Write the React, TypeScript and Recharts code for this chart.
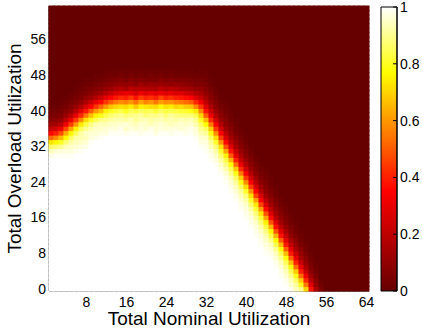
import React from 'react';
import { ScatterChart, Scatter, XAxis, YAxis, BarChart, Bar } from 'recharts';

const FONT = '"Liberation Sans", Arial, Helvetica, sans-serif';

const xTicks = [8, 16, 24, 32, 40, 48, 56, 64];
const yTicks = [0, 8, 16, 24, 32, 40, 48, 56];
const colorTicks = [0, 0.2, 0.4, 0.6, 0.8, 1];

// one entry per nominal-utilization column (1..64).
// rows below columnBase are 1, then columnProfile (percent) going up, then 0
const columnBase = [
  30, 30, 30, 30, 30, 31, 31, 32, 33, 34, 34, 35, 35, 35, 35, 35,
  35, 35, 35, 35, 35, 35, 35, 35, 35, 35, 35, 35, 35, 34, 32, 31,
  29, 28, 26, 24, 22, 20, 18, 16, 14, 12, 10, 8, 7, 5, 3, 1,
  0, 0, 0, 0, 0, 0, 0, 0, 0, 0, 0, 0, 0, 0, 0, 0,
];

const columnProfile = [
  [98, 94, 86, 72, 52, 36, 22, 13, 8, 5, 3, 1],
  [99, 96, 88, 76, 58, 40, 25, 15, 9, 5, 3, 1],
  [99, 97, 90, 80, 66, 48, 32, 19, 11, 7, 4, 2, 1],
  [99, 97, 94, 87, 77, 64, 47, 32, 20, 12, 7, 4, 2, 1],
  [99, 97, 95, 92, 86, 76, 62, 45, 31, 19, 11, 7, 4, 2, 1],
  [98, 96, 94, 92, 85, 75, 60, 44, 30, 18, 11, 7, 4, 2, 1],
  [99, 97, 95, 93, 92, 85, 74, 58, 42, 28, 17, 10, 6, 4, 2, 1],
  [98, 96, 94, 95, 90, 83, 71, 55, 39, 26, 16, 10, 6, 4, 2, 1],
  [99, 97, 96, 93, 89, 80, 67, 50, 35, 22, 13, 8, 5, 3, 1],
  [98, 96, 95, 93, 85, 75, 60, 44, 30, 18, 11, 7, 4, 2, 1],
  [99, 97, 95, 94, 89, 79, 66, 52, 36, 23, 14, 8, 5, 3, 1],
  [97, 96, 94, 90, 84, 75, 60, 44, 30, 18, 11, 7, 4, 2, 1],
  [99, 97, 95, 92, 87, 80, 67, 50, 35, 22, 13, 8, 5, 3, 1],
  [99, 97, 95, 93, 89, 82, 70, 55, 39, 26, 16, 10, 6, 3, 1],
  [99, 98, 96, 93, 90, 84, 72, 58, 42, 28, 18, 11, 7, 4, 2],
  [98, 95, 97, 92, 88, 80, 71, 56, 40, 30, 15, 10, 5, 3, 1],
  [99, 97, 95, 94, 89, 85, 74, 60, 44, 29, 20, 12, 8, 4, 2],
  [99, 96, 94, 91, 90, 83, 68, 54, 38, 25, 17, 9, 6, 3, 1],
  [98, 97, 96, 93, 91, 86, 75, 62, 45, 31, 19, 13, 7, 4, 2],
  [99, 96, 95, 94, 88, 84, 73, 57, 41, 27, 18, 10, 6, 3, 1],
  [99, 98, 94, 92, 90, 85, 72, 60, 43, 30, 17, 12, 6, 4, 2],
  [97, 96, 95, 93, 89, 82, 71, 55, 40, 28, 16, 11, 5, 3, 1],
  [99, 97, 96, 94, 91, 86, 76, 61, 46, 30, 20, 12, 8, 4, 2],
  [99, 96, 95, 92, 88, 83, 72, 58, 41, 27, 17, 11, 6, 3, 1],
  [98, 97, 94, 93, 91, 84, 74, 59, 43, 29, 19, 10, 7, 4, 2],
  [99, 97, 95, 92, 89, 83, 70, 56, 40, 26, 18, 11, 5, 3, 1],
  [99, 96, 96, 94, 88, 82, 71, 55, 39, 27, 15, 10, 6, 3, 1],
  [98, 97, 95, 93, 88, 81, 68, 53, 37, 24, 14, 9, 5, 3, 1],
  [99, 98, 96, 94, 88, 79, 67, 50, 35, 22, 13, 8, 5, 2, 1],
  [99, 97, 96, 93, 90, 84, 73, 57, 41, 27, 17, 10, 6, 4, 2],
  [99, 97, 96, 93, 90, 86, 80, 70, 57, 44, 32, 22, 15, 10, 6, 4, 2, 1],
  [99, 98, 97, 95, 91, 86, 77, 65, 50, 38, 28, 20, 14, 10, 7, 5, 3, 2, 1],
  [99, 98, 97, 94, 91, 86, 79, 69, 55, 42, 31, 22, 16, 11, 8, 6, 4, 2, 1],
  [99, 97, 95, 92, 88, 81, 71, 58, 44, 33, 24, 17, 12, 8, 6, 4, 2, 1],
  [99, 97, 95, 92, 87, 81, 72, 59, 45, 34, 25, 18, 12, 9, 6, 4, 2, 1],
  [99, 98, 96, 93, 89, 83, 75, 62, 48, 36, 26, 19, 13, 9, 7, 5, 3, 2, 1],
  [99, 98, 96, 94, 90, 85, 77, 65, 50, 38, 28, 20, 14, 10, 7, 5, 3, 2, 1],
  [99, 98, 96, 94, 91, 86, 79, 68, 53, 40, 30, 22, 15, 11, 8, 5, 3, 2, 1],
  [99, 98, 96, 94, 91, 86, 79, 69, 55, 42, 31, 22, 16, 11, 8, 6, 4, 2, 1],
  [99, 98, 97, 95, 92, 88, 81, 71, 58, 44, 33, 24, 17, 12, 8, 6, 4, 2, 1],
  [99, 98, 97, 95, 92, 87, 81, 72, 59, 45, 34, 25, 18, 12, 9, 6, 4, 2, 1],
  [99, 98, 97, 95, 92, 88, 82, 73, 61, 46, 35, 26, 18, 13, 9, 6, 4, 2, 1],
  [99, 98, 97, 95, 92, 88, 82, 73, 61, 46, 35, 26, 18, 13, 9, 6, 4, 2, 1],
  [99, 98, 97, 95, 93, 89, 83, 75, 62, 48, 36, 26, 19, 13, 9, 7, 5, 3, 2, 1],
  [99, 98, 96, 94, 90, 84, 76, 64, 49, 37, 27, 19, 14, 10, 7, 5, 3, 2, 1],
  [99, 98, 96, 94, 90, 84, 76, 64, 49, 37, 27, 19, 14, 10, 7, 5, 3, 2, 1],
  [99, 98, 96, 94, 90, 85, 77, 65, 50, 38, 28, 20, 14, 10, 7, 5, 3, 2, 1],
  [99, 98, 96, 94, 90, 85, 78, 66, 51, 39, 29, 21, 15, 10, 7, 5, 3, 2, 1],
  [98, 96, 94, 90, 85, 78, 66, 51, 39, 29, 21, 15, 10, 7, 5, 3, 2, 1],
  [94, 91, 86, 79, 68, 53, 40, 30, 22, 15, 11, 8, 5, 3, 2, 1],
  [90, 80, 68, 53, 40, 30, 22, 15, 11, 8, 5, 3, 2, 1],
  [70, 55, 42, 31, 22, 16, 11, 8, 5, 3, 2, 1],
  [38, 28, 19, 13, 9, 6, 4, 2, 1],
  [16, 11, 8, 5, 3, 2, 1],
  [5, 3, 1],
  [], [], [], [], [], [], [], [], [],
];

const cells: { x: number; y: number; v: number }[] = [];
columnBase.forEach((base, i) => {
  for (let y = 0; y < 64; y++) {
    const v = y < base ? 1 : (columnProfile[i][y - base] ?? 0) / 100;
    cells.push({ x: i + 1, y, v });
  }
});

const colorBar = [{ name: 'cb', value: 1 }];

// plot box is 320 x 285 px, 64 x 64 cells
const CELL_W = 320 / 64;
const CELL_H = 285 / 64;

const hot = (v: number) => {
  let r = 255, g = 0, b = 0;
  if (v < 0.35) r = Math.round(102 + (153 * v) / 0.35);
  else if (v < 0.77) g = Math.round((255 * (v - 0.35)) / 0.42);
  else {
    g = 255;
    b = Math.round((255 * (v - 0.77)) / 0.23);
  }
  return `rgb(${r},${g},${b})`;
};

const HeatCell = (props: any) => {
  const { cx, cy, payload } = props;
  // half a pixel of overlap so no seams show between cells
  return (
    <rect
      x={cx - CELL_W / 2 - 0.5}
      y={cy - CELL_H / 2 - 0.5}
      width={CELL_W + 1}
      height={CELL_H + 1}
      fill={hot(payload.v)}
    />
  );
};

const YLabel = (props: any) => {
  const vb = props.viewBox || { y: 6, height: 285 };
  const x = 21;
  const y = vb.y + vb.height / 2;
  return (
    <text x={x} y={y} transform={`rotate(-90 ${x} ${y})`} textAnchor="middle" fill="#000" fontSize={19} fontFamily={FONT}>
      Total Overload Utilization
    </text>
  );
};

const tickStyle = { fill: '#000', fontSize: 14, fontFamily: FONT };

export default function App() {
  return (
    <div style={{ position: 'absolute', left: 0, top: 0, width: 422, height: 332, background: '#fff' }}>
      <div style={{ position: 'absolute', left: 0, top: 0 }}>
        <ScatterChart width={422} height={332} margin={{ top: 6, right: 53, bottom: 0, left: 0 }}>
          <Scatter data={cells} shape={HeatCell} isAnimationActive={false} />
          <XAxis
            type="number"
            dataKey="x"
            domain={[0.5, 64.5]}
            ticks={xTicks}
            interval={0}
            height={41}
            stroke="#000"
            tickSize={-4}
            tickMargin={10}
            tick={tickStyle}
            label={{ value: 'Total Nominal Utilization', position: 'insideBottom', offset: 7, fill: '#000', fontSize: 19, fontFamily: FONT }}
          />
          <XAxis
            xAxisId="top"
            orientation="top"
            type="number"
            domain={[0.5, 64.5]}
            ticks={xTicks}
            interval={0}
            height={0}
            stroke="#000"
            tickSize={-4}
            tick={false}
          />
          <YAxis
            type="number"
            dataKey="y"
            domain={[-0.5, 63.5]}
            ticks={yTicks}
            interval={0}
            width={49}
            stroke="#000"
            tickSize={-4}
            tickMargin={7}
            tick={tickStyle}
            label={{ content: YLabel }}
          />
          <YAxis
            yAxisId="right"
            orientation="right"
            type="number"
            domain={[-0.5, 63.5]}
            ticks={yTicks}
            interval={0}
            width={0}
            stroke="#000"
            tickSize={-4}
            tick={false}
          />
        </ScatterChart>
      </div>
      <div style={{ position: 'absolute', left: 0, top: 0 }}>
        <BarChart
          width={422}
          height={332}
          data={colorBar}
          margin={{ top: 7, right: 0, bottom: 41, left: 381 }}
          barCategoryGap={0}
        >
          <defs>
            <linearGradient id="hotGrad" x1="0" y1="0" x2="0" y2="1">
              <stop offset="0" stopColor="#ffffff" />
              <stop offset="0.23" stopColor="#ffff00" />
              <stop offset="0.65" stopColor="#ff0000" />
              <stop offset="1" stopColor="#660000" />
            </linearGradient>
          </defs>
          <XAxis dataKey="name" hide />
          <YAxis
            orientation="right"
            type="number"
            domain={[0, 1]}
            ticks={colorTicks}
            interval={0}
            width={25}
            stroke="#000"
            tickSize={-4}
            tickMargin={7}
            tick={tickStyle}
          />
          <Bar dataKey="value" fill="url(#hotGrad)" stroke="#000" strokeWidth={1} isAnimationActive={false} />
        </BarChart>
      </div>
    </div>
  );
}
